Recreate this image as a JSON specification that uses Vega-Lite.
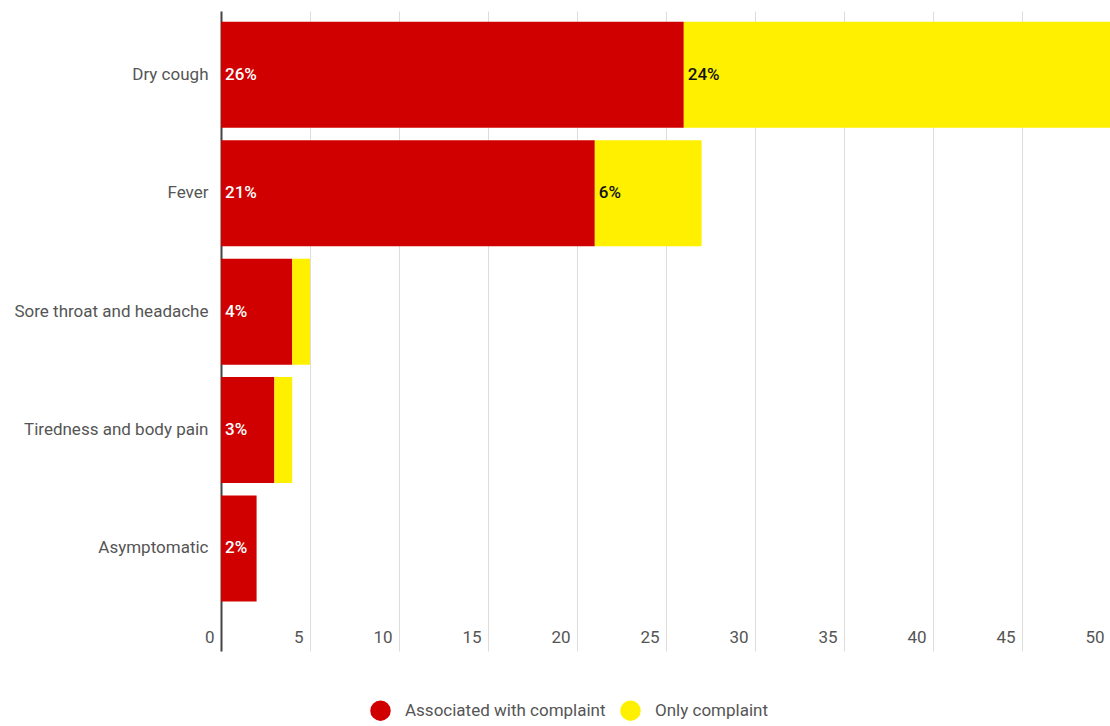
{
  "$schema": "https://vega.github.io/schema/vega-lite/v6.json",
  "width": 890,
  "height": 640,
  "autosize": {"type": "none"},
  "padding": {"left": 221, "top": 11, "right": 0, "bottom": 75},
  "background": "white",
  "config": {
    "view": {"stroke": null},
    "font": "Roboto, sans-serif"
  },
  "data": {
    "values": [
      {"symptom": "Dry cough", "series": "Associated with complaint", "value": 26, "label": "26%"},
      {"symptom": "Dry cough", "series": "Only complaint", "value": 24, "label": "24%"},
      {"symptom": "Fever", "series": "Associated with complaint", "value": 21, "label": "21%"},
      {"symptom": "Fever", "series": "Only complaint", "value": 6, "label": "6%"},
      {"symptom": "Sore throat and headache", "series": "Associated with complaint", "value": 4, "label": "4%"},
      {"symptom": "Sore throat and headache", "series": "Only complaint", "value": 1, "label": "1%"},
      {"symptom": "Tiredness and body pain", "series": "Associated with complaint", "value": 3, "label": "3%"},
      {"symptom": "Tiredness and body pain", "series": "Only complaint", "value": 1, "label": "1%"},
      {"symptom": "Asymptomatic", "series": "Associated with complaint", "value": 2, "label": "2%"},
      {"symptom": "Asymptomatic", "series": "Only complaint", "value": 0, "label": "0%"}
    ]
  },
  "transform": [
    {"stack": "value", "groupby": ["symptom"], "sort": [{"field": "series", "order": "ascending"}], "as": ["x0", "x1"]}
  ],
  "encoding": {
    "y": {
      "field": "symptom",
      "type": "nominal",
      "sort": ["Dry cough", "Fever", "Sore throat and headache", "Tiredness and body pain", "Asymptomatic"],
      "scale": {"paddingInner": 0.105, "paddingOuter": 0.255, "align": 0.18},
      "axis": {
        "title": null,
        "ticks": false,
        "labelPadding": 13,
        "labelFontSize": 17,
        "labelColor": "#555555",
        "domainColor": "#444444",
        "domainWidth": 2,
        "labelLimit": 300
      }
    }
  },
  "layer": [
    {
      "mark": {"type": "bar"},
      "encoding": {
        "x": {
          "field": "x0",
          "type": "quantitative",
          "scale": {"domain": [0, 50], "nice": false},
          "axis": {
            "title": null,
            "values": [0, 5, 10, 15, 20, 25, 30, 35, 40, 45, 50],
            "ticks": false,
            "domain": false,
            "grid": true,
            "gridColor": "#dddddd",
            "gridWidth": 1,
            "labelAlign": "right",
            "labelBaseline": "top",
            "labelPadding": -22,
            "labelOffset": -7,
            "labelFontSize": 17,
            "labelColor": "#555555",
            "labelFlush": false,
            "labelOverlap": false
          }
        },
        "x2": {"field": "x1"},
        "color": {
          "field": "series",
          "type": "nominal",
          "scale": {"domain": ["Associated with complaint", "Only complaint"], "range": ["#d00000", "#fff000"]},
          "legend": {
            "title": null,
            "orient": "none",
            "direction": "horizontal",
            "legendX": 149,
            "legendY": 689,
            "symbolType": "circle",
            "symbolSize": 420,
            "symbolStrokeWidth": 0,
            "labelFontSize": 17,
            "labelColor": "#555555",
            "labelOffset": 14,
            "columnPadding": 14,
            "labelLimit": 400
          }
        }
      }
    },
    {
      "transform": [{"filter": "datum.value > 1"}],
      "mark": {"type": "text", "align": "left", "baseline": "middle", "dx": 4, "fontSize": 17, "fontWeight": 500},
      "encoding": {
        "x": {"field": "x0", "type": "quantitative"},
        "text": {"field": "label", "type": "nominal"},
        "color": {
          "field": "series",
          "type": "nominal",
          "scale": {"domain": ["Associated with complaint", "Only complaint"], "range": ["#ffffff", "#111111"]},
          "legend": null
        }
      }
    }
  ],
  "resolve": {"scale": {"color": "independent"}}
}
